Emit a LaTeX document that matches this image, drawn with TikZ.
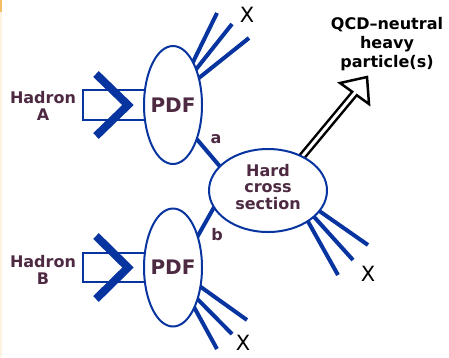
\documentclass[tikz,border=0pt]{standalone}
\usepackage{fontspec}
\setmainfont{DejaVu Sans}
\usetikzlibrary{shapes.geometric,backgrounds}
\definecolor{qblue}{RGB}{8,52,160}
\definecolor{qpurple}{RGB}{78,42,66}
\definecolor{stripor}{RGB}{245,190,100}
\definecolor{stripbg}{RGB}{253,243,225}
\begin{document}
\begin{tikzpicture}[x=1pt,y=-1pt,
  pdfell/.style={ellipse, draw=qblue, line width=2pt, fill=white, minimum width=58pt, minimum height=118pt, inner sep=0pt},
  hardell/.style={ellipse, draw=qblue, line width=2pt, fill=white, minimum width=118pt, minimum height=83pt, inner sep=0pt},
  ptext/.style={text=qpurple, font=\bfseries\fontsize{16}{16.5}\selectfont, align=center, inner sep=0pt},
  pdftext/.style={text=qpurple, font=\bfseries\fontsize{20}{22}\selectfont, inner sep=0pt},
  qtext/.style={text=black, font=\bfseries\fontsize{16}{19}\selectfont, align=center, inner sep=0pt},
  xlab/.style={font=\fontsize{21}{22}\selectfont, inner sep=0pt},
  jet/.style={draw=qblue, line width=4pt, shorten <=-4pt},
  hbox/.style={draw=qblue, line width=2pt},
  chev/.style={draw=qblue, line width=8pt, miter limit=10},
]
\useasboundingbox (0,0) rectangle (449,357);
\fill[stripbg] (0,0) rectangle (2,357);
\fill[stripor] (0,0) rectangle (2,12);

% ellipses
\node[pdfell] (pdfA) at (173,105) {};
\node[pdfell] (pdfB) at (173,267.5) {};
\node[hardell] (hard) at (268,190.5) {};
\node[pdftext] (pdfAt) at (pdfA) {PDF};
\node[pdftext] (pdfBt) at (pdfB) {PDF};
\node[ptext] (hardt) at (268,187) {Hard\\cross\\section};

% hadron labels
\node[ptext] (hadA) at (43,106) {Hadron\\A};
\node[ptext] (hadB) at (43,270) {Hadron\\B};

% parton labels
\node[ptext] (la) at (216,139) {a};
\node[ptext] (lb) at (217,235) {b};

% X labels
\node[xlab] (xA) at (247,15) {X};
\node[xlab] (xC) at (368,274) {X};
\node[xlab] (xB) at (243,343) {X};

% heavy particle label
\node[qtext] (qcd) at (387,44) {QCD–neutral\\heavy\\particle(s)};

% free ends
\coordinate (ja1) at (217,13);
\coordinate (ja2) at (232,24);
\coordinate (ja3) at (249,38);
\coordinate (jb1) at (247,320);
\coordinate (jb2) at (232,334);
\coordinate (jb3) at (217,349);
\coordinate (jc1) at (368,245);
\coordinate (jc2) at (353,260);
\coordinate (jc3) at (338,275);
\coordinate (tip) at (367,77);
\coordinate (hl) at (340,83);
\coordinate (hr) at (369,104);
\coordinate (nl) at (351.3,91.1);
\coordinate (nr) at (357.7,95.9);
\coordinate (hb) at (354.5,93.5);
\coordinate (hin) at (357.7,89.6);

\begin{scope}[on background layer]
  % hadron boxes and chevrons
  \draw[hbox] (83,90) rectangle (150,120);
  \draw[hbox] (83,253) rectangle (150,282);
  \draw[chev] (96,74) -- (128,105) -- (96,136);
  \draw[chev] (96,236) -- (128,267.5) -- (96,299);
  % jets
  \draw[jet] (pdfA.65) -- (ja1);
  \draw[jet] (pdfA.57) -- (ja2);
  \draw[jet] (pdfA.46) -- (ja3);
  \draw[jet] (pdfB.-35) -- (jb1);
  \draw[jet] (pdfB.-52) -- (jb2);
  \draw[jet] (pdfB.-62) -- (jb3);
  \draw[jet] (hard.-22) -- (jc1);
  \draw[jet] (hard.-30) -- (jc2);
  \draw[jet] (hard.-38) -- (jc3);
  % partons
  \draw[jet, shorten >=-4pt] (pdfA.-55) -- (hard.153);
  \draw[jet, shorten >=-4pt] (hard.198) -- (pdfB.52);
  % heavy particle arrow
  \draw[line width=8pt, black, shorten <=-6pt] (hard.45) -- (hb);
  \draw[fill=white, line width=2.5pt, line join=miter] (tip) -- (hr) -- (nr) -- (nl) -- (hl) -- cycle;
  \draw[line width=3pt, white, shorten <=-6pt] (hard.45) -- (hin);
\end{scope}
\end{tikzpicture}
\end{document}
